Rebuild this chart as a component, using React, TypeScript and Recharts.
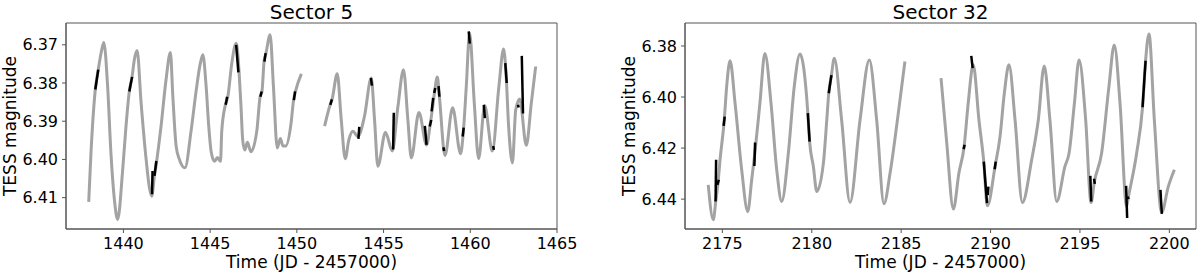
import { LineChart, Line, XAxis, YAxis, ReferenceArea } from "recharts";

// Sector 5 light curve (gray), null marks the data gap
const s5Time = [
  1438.0, 1438.13, 1438.38, 1438.55, 1438.71, 1438.87, 1439.09, 1439.28, 1439.48, 1439.67,
  1439.96, 1440.15, 1440.34, 1440.5, 1440.63, 1440.79, 1441.02, 1441.31, 1441.5, 1441.63,
  1441.79, 1441.92, 1442.17, 1442.46, 1442.71, 1442.85, 1443.04, 1443.23, 1443.55, 1443.9,
  1444.19, 1444.42, 1444.58, 1444.77, 1444.92, 1445.06, 1445.25, 1445.42, 1445.6, 1445.67,
  1445.88, 1446.02, 1446.25, 1446.5, 1446.77, 1446.88, 1447.0, 1447.15, 1447.35, 1447.69,
  1447.88, 1447.99, 1448.11, 1448.22, 1448.46, 1448.65, 1448.87, 1449.05, 1449.2, 1449.35,
  1449.67, 1449.81, 1449.92, 1450.26, 1451.0,
  1451.6, 1451.92, 1452.03, 1452.33, 1452.56, 1452.79, 1453.0, 1453.23, 1453.52, 1453.9,
  1454.29, 1454.48, 1454.67, 1455.11, 1455.5, 1455.83, 1456.15, 1456.4, 1456.6, 1457.04,
  1457.48, 1457.7, 1457.85, 1457.95, 1458.1, 1458.22, 1458.54, 1458.98, 1459.44, 1459.6,
  1459.77, 1459.96, 1460.23, 1460.48, 1460.83, 1461.27, 1461.65, 1461.92, 1462.06, 1462.21,
  1462.43, 1462.62, 1462.85, 1463.23, 1463.52, 1463.77,
];
const s5Mag = [
  6.4111, 6.3983, 6.3817, 6.3765, 6.3722, 6.3694, 6.3809, 6.3983, 6.4105, 6.4157,
  6.4026, 6.3913, 6.3822, 6.3784, 6.3739, 6.3715, 6.3852, 6.4, 6.4074, 6.4096,
  6.4043, 6.4004, 6.3913, 6.3791, 6.372, 6.3835, 6.3965, 6.4, 6.4022, 6.3926,
  6.3822, 6.3752, 6.3726, 6.3809, 6.3913, 6.398, 6.4005, 6.3995, 6.4005, 6.3926,
  6.3857, 6.3836, 6.3748, 6.3696, 6.3852, 6.395, 6.3975, 6.3955, 6.398, 6.3926,
  6.3836, 6.3822, 6.3744, 6.3722, 6.3674, 6.3809, 6.397, 6.3945, 6.3965, 6.3965,
  6.3904, 6.3845, 6.3822, 6.3776, null,
  6.3913, 6.3857, 6.3843, 6.3776, 6.3896, 6.3998, 6.3948, 6.3926, 6.394, 6.3887,
  6.3787, 6.3896, 6.4018, 6.3929, 6.3978, 6.3861, 6.3765, 6.3896, 6.3996, 6.3877,
  6.3962, 6.3905, 6.3856, 6.382, 6.3784, 6.3836, 6.399, 6.3865, 6.3985, 6.3928,
  6.3809, 6.3669, 6.3852, 6.3998, 6.3859, 6.3978, 6.3809, 6.3711, 6.3774, 6.3913,
  6.4009, 6.387, 6.3842, 6.3963, 6.3852, 6.3757,
];
// black highlighted segments: [t0, m0, t1, m1]
const s5Marks = [
  [1438.38, 6.3817, 1438.55, 6.3765],
  [1440.34, 6.3822, 1440.5, 6.3784],
  [1441.65, 6.4091, 1441.68, 6.403],
  [1441.79, 6.4043, 1441.9, 6.4004],
  [1445.9, 6.3857, 1445.98, 6.3836],
  [1446.5, 6.37, 1446.63, 6.3772],
  [1447.9, 6.3836, 1447.97, 6.3822],
  [1448.13, 6.3744, 1448.2, 6.3722],
  [1449.83, 6.3845, 1449.9, 6.3822],
  [1451.93, 6.3857, 1452.02, 6.3843],
  [1453.55, 6.3946, 1453.6, 6.3915],
  [1454.27, 6.3787, 1454.33, 6.3807],
  [1455.55, 6.3974, 1455.59, 6.3878],
  [1457.38, 6.3912, 1457.48, 6.3962],
  [1457.66, 6.3914, 1457.75, 6.3897],
  [1457.77, 6.3874, 1457.86, 6.3839],
  [1457.92, 6.3826, 1457.98, 6.3813],
  [1458.17, 6.3808, 1458.22, 6.3836],
  [1458.45, 6.3968, 1458.49, 6.3978],
  [1459.56, 6.394, 1459.62, 6.3917],
  [1459.91, 6.3665, 1459.97, 6.3697],
  [1460.78, 6.3857, 1460.84, 6.3892],
  [1461.32, 6.3965, 1461.36, 6.3975],
  [1462.02, 6.3748, 1462.1, 6.38],
  [1462.75, 6.3857, 1462.79, 6.3864],
  [1462.97, 6.3729, 1463.04, 6.388],
];

// Sector 32 light curve
const s32Time = [
  2174.21, 2174.49, 2174.63, 2174.76, 2174.87, 2175.1, 2175.24, 2175.43, 2175.71, 2176.08,
  2176.42, 2176.64, 2176.81, 2177.1, 2177.38, 2177.72, 2178.04, 2178.32, 2178.69, 2179.02,
  2179.34, 2179.78, 2179.88, 2180.09, 2180.28, 2180.65, 2180.84, 2180.95, 2181.1, 2181.26,
  2181.67, 2182.14, 2182.7, 2183.22, 2183.63, 2184.04, 2184.38, 2184.84, 2185.21, 2186.2,
  2187.23, 2187.55, 2187.92, 2188.23, 2188.52, 2188.75, 2189.03, 2189.35, 2189.62, 2189.82,
  2190.26, 2190.53, 2190.77, 2191.03, 2191.37, 2191.78, 2192.3, 2192.67, 2193.0, 2193.32,
  2193.7, 2194.16, 2194.39, 2194.69, 2194.95, 2195.32, 2195.62, 2195.81, 2196.21, 2196.62,
  2196.92, 2197.24, 2197.61, 2197.7, 2198.17, 2198.5, 2198.67, 2198.86, 2199.16, 2199.57,
  2199.94, 2200.28,
];
const s32Mag = [
  6.4344, 6.4481, 6.4409, 6.4334, 6.4246, 6.4095, 6.3959, 6.3858, 6.4024, 6.4285,
  6.4449, 6.4324, 6.4224, 6.4024, 6.3829, 6.4024, 6.4285, 6.4409, 6.422, 6.3959,
  6.3831, 6.4063, 6.4175, 6.4272, 6.437, 6.4259, 6.409, 6.3985, 6.3914, 6.3848,
  6.409, 6.4413, 6.409, 6.3855, 6.409, 6.4418, 6.4298, 6.4063, 6.3861, null,
  6.3926, 6.4181, 6.4439, 6.4298, 6.4195, 6.4024, 6.3874, 6.409, 6.4253, 6.4426,
  6.4268, 6.4155, 6.3985, 6.3874, 6.409, 6.4413, 6.4246, 6.409, 6.3878, 6.409,
  6.4409, 6.4272, 6.422, 6.4024, 6.3855, 6.409, 6.4413, 6.433, 6.422, 6.3959,
  6.3796, 6.4024, 6.4429, 6.4395, 6.422, 6.404, 6.3858, 6.3753, 6.409, 6.4452,
  6.4351, 6.4285,
];
const s32Marks = [
  [2174.62, 6.4409, 2174.65, 6.4246],
  [2174.72, 6.4344, 2174.8, 6.4324],
  [2175.07, 6.4113, 2175.13, 6.4077],
  [2176.79, 6.427, 2176.83, 6.4178],
  [2179.78, 6.4063, 2179.88, 6.4175],
  [2180.95, 6.3985, 2181.1, 6.3914],
  [2188.49, 6.4204, 2188.55, 6.4187],
  [2188.92, 6.3839, 2189.0, 6.3887],
  [2189.62, 6.4253, 2189.8, 6.4416],
  [2189.84, 6.4384, 2189.88, 6.4351],
  [2190.23, 6.4283, 2190.29, 6.4253],
  [2195.58, 6.4309, 2195.63, 6.4409],
  [2195.79, 6.432, 2195.83, 6.434],
  [2197.58, 6.4348, 2197.64, 6.4474],
  [2197.67, 6.439, 2197.72, 6.44],
  [2198.5, 6.404, 2198.67, 6.3858],
  [2199.5, 6.4364, 2199.58, 6.4458],
];

const s5XTicks = [1440, 1445, 1450, 1455, 1460, 1465];
const s5YTicks = [6.37, 6.38, 6.39, 6.4, 6.41];
const s32XTicks = [2175, 2180, 2185, 2190, 2195, 2200];
const s32YTicks = [6.38, 6.4, 6.42, 6.44];

const font = "DejaVu Sans, sans-serif";
const grey = "#a3a3a3";
const frame = "#555555";

interface PanelProps {
  left: number;
  axisWidth: number;
  time: number[];
  mag: (number | null)[];
  marks: number[][];
  xDomain: [number, number];
  yDomain: [number, number];
  xTicks: number[];
  yTicks: number[];
}

function Panel({ left, axisWidth, time, mag, marks, xDomain, yDomain, xTicks, yTicks }: PanelProps) {
  const rows = time.map((t, i) => ({ t, m: mag[i] }));
  const tickStyle = { fill: "#000", fontSize: 16, fontFamily: font };
  return (
    <div style={{ position: "absolute", left, top: 0 }}>
      <LineChart
        width={600}
        height={275}
        margin={{ top: 23, right: left === 0 ? 43 : 4, bottom: 0, left: 0 }}
      >
        <XAxis
          type="number"
          dataKey="t"
          domain={xDomain}
          ticks={xTicks}
          allowDataOverflow
          height={46}
          tickSize={4}
          tickMargin={5}
          stroke={frame}
          tick={tickStyle}
        />
        <YAxis
          type="number"
          dataKey="m"
          domain={yDomain}
          ticks={yTicks}
          reversed
          allowDataOverflow
          width={axisWidth}
          tickSize={4}
          tickMargin={4}
          stroke={frame}
          tick={tickStyle}
          tickFormatter={(v: number) => v.toFixed(2)}
        />
        <ReferenceArea
          x1={xDomain[0]}
          x2={xDomain[1]}
          y1={yDomain[0]}
          y2={yDomain[1]}
          fill="none"
          stroke={frame}
          strokeWidth={1}
        />
        <Line
          data={rows}
          dataKey="m"
          type="monotone"
          stroke={grey}
          strokeWidth={3}
          dot={false}
          connectNulls={false}
          isAnimationActive={false}
        />
        {marks.map((s, i) => (
          <Line
            key={i}
            data={[
              { t: s[0], m: s[1] },
              { t: s[2], m: s[3] },
            ]}
            dataKey="m"
            stroke="#000"
            strokeWidth={2.5}
            dot={false}
            isAnimationActive={false}
          />
        ))}
      </LineChart>
    </div>
  );
}

export default function App() {
  return (
    <div style={{ position: "absolute", left: 0, top: 0, width: 1200, height: 275, background: "#fff" }}>
      <Panel
        left={0}
        axisWidth={66}
        time={s5Time}
        mag={s5Mag}
        marks={s5Marks}
        xDomain={[1436.69, 1465.0]}
        yDomain={[6.3643, 6.4182]}
        xTicks={s5XTicks}
        yTicks={s5YTicks}
      />
      <Panel
        left={600}
        axisWidth={85}
        time={s32Time}
        mag={s32Mag}
        marks={s32Marks}
        xDomain={[2172.91, 2201.49]}
        yDomain={[6.371, 6.4517]}
        xTicks={s32XTicks}
        yTicks={s32YTicks}
      />
      <svg
        width={1200}
        height={275}
        style={{ position: "absolute", left: 0, top: 0, pointerEvents: "none" }}
        fontFamily={font}
      >
        <text x={311.5} y={18.5} fontSize={20} textAnchor="middle">Sector 5</text>
        <text x={940.5} y={18.5} fontSize={20} textAnchor="middle">Sector 32</text>
        <text x={311.5} y={267.5} fontSize={17} textAnchor="middle">Time (JD - 2457000)</text>
        <text x={940.5} y={267.5} fontSize={17} textAnchor="middle">Time (JD - 2457000)</text>
        <text transform="translate(15.7,126) rotate(-90)" fontSize={17} textAnchor="middle">TESS magnitude</text>
        <text transform="translate(634.7,126) rotate(-90)" fontSize={17} textAnchor="middle">TESS magnitude</text>
      </svg>
    </div>
  );
}
